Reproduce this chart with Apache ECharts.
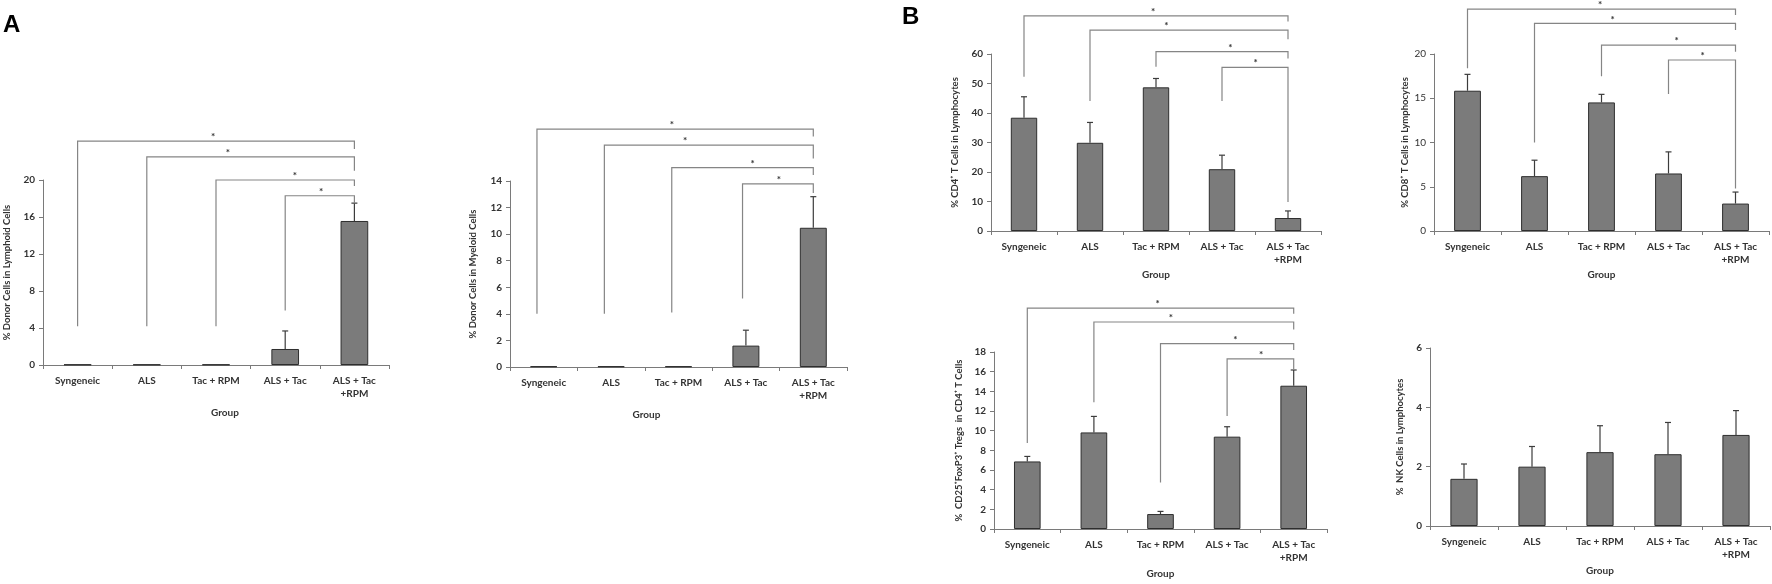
<!DOCTYPE html>
<html>
<head>
<meta charset="utf-8">
<script src="https://cdn.jsdelivr.net/npm/echarts@6/dist/echarts.min.js"></script>
<style>
html, body { margin: 0; padding: 0; background: #fff; }
#chart { width: 1772px; height: 584px; }
</style>
</head>
<body>
<div id="chart"></div>
<script>
// groups on every x axis
const groups = ['Syngeneic', 'ALS', 'Tac + RPM', 'ALS + Tac', 'ALS + Tac\n+RPM'];

// panel A: donor chimerism
const lymphoidMean = [0.05, 0.05, 0.05, 1.73, 15.57];
const lymphoidSd = [0, 0, 0, 1.95, 1.93];
const myeloidMean = [0.05, 0.05, 0.05, 1.61, 10.48];
const myeloidSd = [0, 0, 0, 1.16, 2.34];

// panel B: lymphocyte subsets
const cd4Mean = [38.4, 29.9, 48.7, 20.95, 4.4];
const cd4Sd = [7.1, 6.9, 3.0, 4.75, 2.4];
const cd8Mean = [15.85, 6.2, 14.53, 6.5, 3.1];
const cd8Sd = [1.85, 1.8, 0.91, 2.44, 1.3];
const tregMean = [6.87, 9.82, 1.52, 9.39, 14.57];
const tregSd = [0.51, 1.63, 0.27, 1.01, 1.6];
const nkMean = [1.59, 2.0, 2.49, 2.42, 3.07];
const nkSd = [0.5, 0.68, 0.89, 1.07, 0.82];

// significance brackets: [from group, leg bottom, bracket top, right leg bottom, star position]
const lymphoidSig = [[0, 4.2, 24.2, 23.35, 1.96], [1, 4.2, 22.5, 21.0, 2.17], [2, 4.2, 20.0, 19.35, 3.14], [3, 5.9, 18.3, 17.5, 3.52]];
const myeloidSig = [[-0.1, 4.0, 17.9, 17.35, 1.9], [0.9, 4.0, 16.7, 15.7, 2.1], [1.9, 4.1, 15.0, 14.46, 3.1], [2.95, 5.16, 13.78, 13.1, 3.49]];
const cd4Sig = [[0, 52.3, 72.9, 71, 1.955], [1, 44.1, 68.1, 65, 2.156], [2, 55.7, 60.8, 58.5, 3.126], [3, 44.1, 55.5, 9.8, 3.509]];
const cd8Sig = [[0, 18.4, 25.06, 24.4, 1.978], [1, 10.0, 23.47, 22.7, 2.167], [2, 17.5, 21.0, 20.26, 3.122], [3, 15.47, 19.32, 4.8, 3.51]];
const tregSig = [[0, 8.75, 22.47, 21.9, 1.956], [1, 12.9, 21.05, 20.3, 2.157], [2, 4.74, 18.85, 18.2, 3.124], [3, 11.5, 17.3, 16.2, 3.51]];

const panels = [
  { name: '% Donor Cells in Lymphoid Cells', mean: lymphoidMean, sd: lymphoidSd, sig: lymphoidSig, max: 20, interval: 4,
    box: { left: 43, top: 180, width: 346, height: 185 }, nameGap: 31, groupGap: 43, groupShift: 9 },
  { name: '% Donor Cells in Myeloid Cells', mean: myeloidMean, sd: myeloidSd, sig: myeloidSig, max: 14, interval: 2,
    box: { left: 510, top: 181, width: 337, height: 186 }, nameGap: 32, groupGap: 43, groupShift: -32 },
  { name: '% CD4\u207A T Cells in Lymphocytes', mean: cd4Mean, sd: cd4Sd, sig: cd4Sig, max: 60, interval: 10,
    box: { left: 991, top: 54, width: 330, height: 177 }, nameGap: 31, groupGap: 39, groupShift: 0 },
  { name: '% CD8\u207A T Cells in Lymphocytes', mean: cd8Mean, sd: cd8Sd, sig: cd8Sig, max: 20, interval: 5,
    box: { left: 1434, top: 54, width: 335, height: 177 }, nameGap: 24, groupGap: 39, groupShift: 0, thin: true },
  { name: '%  CD25\u207AFoxP3\u207A Tregs  in CD4\u207A T Cells', mean: tregMean, sd: tregSd, sig: tregSig, max: 18, interval: 2,
    box: { left: 994, top: 352, width: 333, height: 177 }, nameGap: 30, groupGap: 40, groupShift: 0 },
  { name: '%  NK Cells in Lymphocytes', mean: nkMean, sd: nkSd, sig: [], max: 6, interval: 2,
    box: { left: 1430, top: 348, width: 340, height: 178 }, nameGap: 25, groupGap: 40, groupShift: 0 }
];

const font = 'Lato, "Open Sans", sans-serif';
const textColor = '#333';
const axisColor = '#7a7a7a';

function renderErr(params, api) {
  const x = api.value(0), m = api.value(1), s = api.value(2);
  if (!s) return null;
  const p0 = api.coord([x, m]);
  const p1 = api.coord([x, m + s]);
  const st = { stroke: '#3c3c3c', lineWidth: 1.2 };
  return {
    type: 'group',
    children: [
      { type: 'line', shape: { x1: p0[0], y1: p0[1], x2: p1[0], y2: p1[1] }, style: st },
      { type: 'line', shape: { x1: p1[0] - 3, y1: p1[1], x2: p1[0] + 3, y2: p1[1] }, style: st }
    ]
  };
}

function renderSig(params, api) {
  const lx = api.value(0), low = api.value(1), top = api.value(2), rlow = api.value(3), sx = api.value(4);
  const a = api.coord([lx, low]);
  const b = api.coord([lx, top]);
  const c = api.coord([4, top]);
  const d = api.coord([4, rlow]);
  const s = api.coord([sx, top]);
  return {
    type: 'group',
    children: [
      { type: 'polyline', shape: { points: [a, b, c, d] }, style: { stroke: '#858585', lineWidth: 1.2, fill: null } },
      { type: 'text', x: s[0], y: s[1] + 1, style: { text: '*', fill: '#333', font: 'bold 10px ' + font, align: 'center', verticalAlign: 'bottom' } }
    ]
  };
}

const grid = [], xAxis = [], yAxis = [], series = [];
panels.forEach((p, i) => {
  grid.push(Object.assign({ containLabel: false }, p.box));
  xAxis.push({
    type: 'category', gridIndex: i, data: groups,
    name: 'Group', nameLocation: 'middle', nameGap: p.groupGap,
    nameTextStyle: {
      fontFamily: font, fontWeight: 'bold', fontSize: 10, color: textColor,
      padding: p.groupShift > 0 ? [0, 0, 0, 2 * p.groupShift] : [0, -2 * p.groupShift, 0, 0]
    },
    axisLine: { onZero: false, lineStyle: { color: axisColor, width: 1 } },
    axisTick: { show: true, length: 4, interval: 0, lineStyle: { color: axisColor } },
    axisLabel: { interval: 0, fontFamily: font, fontWeight: 'bold', fontSize: 10, color: textColor, lineHeight: 13, margin: 9 }
  });
  xAxis.push({ type: 'value', gridIndex: i, min: -0.5, max: 4.5, show: false, axisLine: { onZero: false } });
  yAxis.push({
    type: 'value', gridIndex: i, min: 0, max: p.max, interval: p.interval,
    name: p.name, nameLocation: 'middle', nameRotate: 90, nameGap: p.nameGap,
    nameTextStyle: { fontFamily: font, fontWeight: 'bold', fontSize: 9.5, color: textColor },
    axisLine: { show: true, onZero: false, lineStyle: { color: axisColor, width: 1 } },
    axisTick: { show: true, length: 4, lineStyle: { color: axisColor } },
    splitLine: { show: false },
    axisLabel: { fontFamily: font, fontWeight: p.thin ? 'normal' : 'bold', fontSize: 10, color: textColor, margin: 8 }
  });
  series.push({
    type: 'bar', xAxisIndex: 2 * i, yAxisIndex: i, data: p.mean, barWidth: '40%',
    itemStyle: { color: '#7b7b7b', borderColor: '#2e2e2e', borderWidth: 1 },
    silent: true, z: 2
  });
  series.push({
    type: 'custom', xAxisIndex: 2 * i + 1, yAxisIndex: i, renderItem: renderErr, clip: false, z: 3,
    data: p.mean.map((m, k) => [k, m, p.sd[k]])
  });
  if (p.sig.length) {
    series.push({
      type: 'custom', xAxisIndex: 2 * i + 1, yAxisIndex: i, renderItem: renderSig, clip: false, z: 4,
      data: p.sig
    });
  }
});

const chart = echarts.init(document.getElementById('chart'), null, { renderer: 'canvas' });
chart.setOption({
  animation: false,
  backgroundColor: '#fff',
  grid: grid,
  xAxis: xAxis,
  yAxis: yAxis,
  series: series,
  graphic: [
    { type: 'text', left: 3, top: 13, style: { text: 'A', font: 'bold 24px "Liberation Sans", Arial, sans-serif', fill: '#000' } },
    { type: 'text', left: 902, top: 5, style: { text: 'B', font: 'bold 24px "Liberation Sans", Arial, sans-serif', fill: '#000' } }
  ]
});
</script>
</body>
</html>
